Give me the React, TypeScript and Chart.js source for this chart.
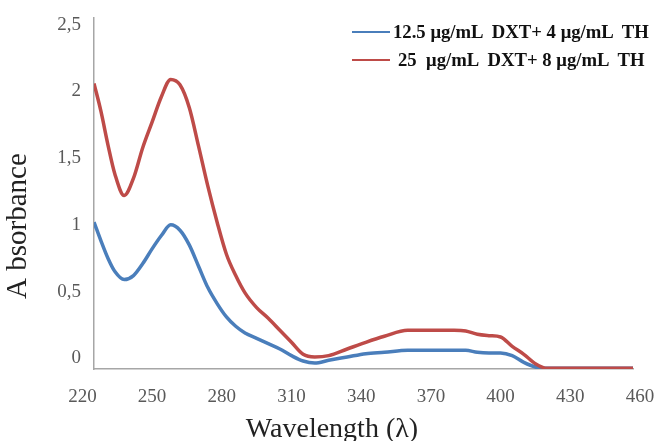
import React, { useEffect, useRef } from "react";
import { Chart, registerables } from "chart.js";

Chart.register(...registerables);

// Wavelength (nm) sampling points
const wavelengths = [
  225, 228, 231, 234, 238, 242, 246, 250, 254, 258, 262, 266, 270, 274, 278, 282,
  286, 290, 295, 300, 305, 310, 315, 320, 326, 334, 342, 350, 360, 370, 380, 385,
  390, 395, 400, 405, 410, 415, 420, 425, 440, 457,
];

const series1Label = "12.5 μg/mL  DXT+ 4 μg/mL  TH";
const series2Label = "25  μg/mL  DXT+ 8 μg/mL  TH";

// 12.5 µg/mL DXT + 4 µg/mL TH (blue)
const series1 = [
  1.02, 0.88, 0.75, 0.65, 0.59, 0.62, 0.71, 0.82, 0.92, 1.0, 0.96, 0.85, 0.69, 0.53, 0.41, 0.31,
  0.24, 0.19, 0.15, 0.11, 0.07, 0.02, -0.02, -0.035, -0.015, 0.01, 0.035, 0.045, 0.06, 0.06, 0.06, 0.06,
  0.045, 0.04, 0.04, 0.02, -0.03, -0.065, -0.075, -0.075, -0.075, -0.075,
];

// 25 µg/mL DXT + 8 µg/mL TH (red)
const series2 = [
  2.06, 1.85, 1.6, 1.38, 1.22, 1.35, 1.58, 1.77, 1.96, 2.09, 2.05, 1.88, 1.59, 1.29, 1.02, 0.78,
  0.62, 0.49, 0.38, 0.3, 0.21, 0.12, 0.03, 0.01, 0.02, 0.07, 0.12, 0.165, 0.21, 0.21, 0.21, 0.205,
  0.18, 0.17, 0.16, 0.09, 0.03, -0.04, -0.075, -0.075, -0.075, -0.075,
];

const xTickValues = [220, 250, 280, 310, 340, 370, 400, 430, 460];
const yTickValues = [0, 0.5, 1, 1.5, 2, 2.5];

const BLUE = "#4a7ebb";
const RED = "#be4b48";
const FONT = "'Liberation Serif', 'Times New Roman', serif";

export default function App() {
  const canvasRef = useRef<HTMLCanvasElement | null>(null);

  useEffect(() => {
    const canvas = canvasRef.current;
    if (!canvas) return;
    const chart = new Chart(canvas, {
      type: "line",
      data: {
        datasets: [
          {
            label: series1Label,
            data: wavelengths.map((x, i) => ({ x, y: series1[i] })),
            borderColor: BLUE,
            backgroundColor: BLUE,
            borderWidth: 3.5,
            pointRadius: 0,
            cubicInterpolationMode: "monotone",
            order: 1,
          },
          {
            label: series2Label,
            data: wavelengths.map((x, i) => ({ x, y: series2[i] })),
            borderColor: RED,
            backgroundColor: RED,
            borderWidth: 3.5,
            pointRadius: 0,
            cubicInterpolationMode: "monotone",
            order: 0,
          },
        ],
      },
      options: {
        animation: false,
        responsive: false,
        layout: { padding: { top: 18, right: 23, left: 0, bottom: 0 } },
        plugins: {
          legend: { display: false },
          tooltip: { enabled: false },
        },
        scales: {
          x: {
            type: "linear",
            min: 225,
            max: 457,
            afterBuildTicks: (s: any) => {
              s.ticks = xTickValues.map((v) => ({ value: v }));
            },
            afterFit: (s: any) => {
              s.height = 72;
              s.paddingLeft = 0;
              s.paddingRight = 0;
            },
            grid: { display: false, drawTicks: false },
            border: { display: true, color: "#a6a6a6", width: 1.5 },
            ticks: {
              autoSkip: false,
              maxRotation: 0,
              padding: 17,
              color: "#595959",
              font: { family: FONT, size: 19 },
              callback: (v: any) => String(v),
            },
            title: {
              display: true,
              text: "Wavelength (λ)" + " ".repeat(9),
              color: "#222",
              font: { family: FONT, size: 28 },
              padding: { top: 0, bottom: -5 },
            },
          },
          y: {
            type: "linear",
            min: -0.08,
            max: 2.55,
            afterBuildTicks: (s: any) => {
              s.ticks = yTickValues.map((v) => ({ value: v }));
            },
            afterFit: (s: any) => {
              s.width = 94;
              s.paddingTop = 0;
              s.paddingBottom = 0;
            },
            grid: { display: false, drawTicks: false },
            border: { display: true, color: "#a6a6a6", width: 1.5 },
            ticks: {
              padding: 13,
              color: "#595959",
              font: { family: FONT, size: 19 },
              callback: (v: any) => String(v).replace(".", ","),
            },
            title: {
              display: true,
              text: "A bsorbance" + " ".repeat(9),
              color: "#222",
              font: { family: FONT, size: 29 },
              padding: { top: 1, bottom: 0 },
            },
          },
        },
      },
    });
    return () => chart.destroy();
  }, []);

  const legendItem = (color: string, text: string, top: number, textLeft: number) => (
    <div
      style={{
        position: "absolute",
        left: 352,
        top,
        height: 20,
        display: "flex",
        alignItems: "center",
        whiteSpace: "pre",
      }}
    >
      <div style={{ width: 38, height: 2.5, background: color }} />
      <span
        style={{
          marginLeft: textLeft,
          fontFamily: FONT,
          fontWeight: "bold",
          fontSize: 18.7,
          color: "#111",
        }}
      >
        {text}
      </span>
    </div>
  );

  return (
    <div
      style={{
        position: "fixed",
        left: 0,
        top: 0,
        width: 656,
        height: 441,
        background: "#fff",
      }}
    >
      <canvas ref={canvasRef} width={656} height={441} style={{ display: "block" }} />
      {legendItem(BLUE, series1Label, 22, 3)}
      {legendItem(RED, series2Label, 50, 8)}
    </div>
  );
}
